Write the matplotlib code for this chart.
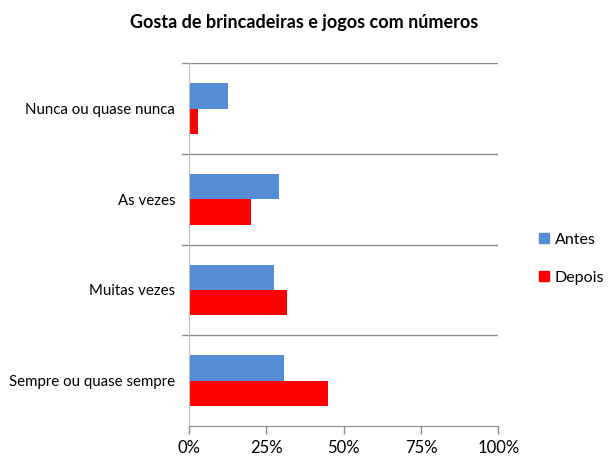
import numpy as np
import matplotlib.pyplot as plt
from matplotlib.patches import Patch

categorias = ['Nunca ou quase nunca', 'As vezes', 'Muitas vezes', 'Sempre ou quase sempre']
antes = [12.7, 29.0, 27.6, 30.6]
depois = [3.0, 20.1, 31.7, 45.0]
ticks_x = [0, 25, 50, 75, 100]

plt.rcParams['font.family'] = ['Lato', 'DejaVu Sans']

fig = plt.figure(figsize=(6.09, 4.66), dpi=100)
ax = fig.add_axes([0.3103, 0.0858, 0.5079, 0.7784])

azul = '#558ED5'
vermelho = '#FF0000'
h = 0.28
y = np.arange(len(categorias))

ax.barh(y - h / 2, antes, height=h, color=azul, label='Antes')
ax.barh(y + h / 2, depois, height=h, color=vermelho, label='Depois')

ax.set_ylim(len(categorias) - 0.5, -0.5)
ax.set_xlim(0, 100)

# linhas entre categorias
for b in np.arange(-0.5, len(categorias) - 0.5):
    ax.axhline(b, color='#8c8c8c', lw=1.0, zorder=0)
    ax.plot([-2.2, 0], [b, b], color='#8c8c8c', lw=1.0, clip_on=False)

ax.set_yticks(y)
ax.set_yticklabels(categorias, fontsize=10.8)
ax.tick_params(axis='y', length=0, pad=10)
ax.set_xticks(ticks_x)
ax.set_xticklabels([f'{t}%' for t in ticks_x], fontsize=12)
ax.tick_params(axis='x', length=6, color='#8c8c8c', width=1.0, pad=4)

for s in ['top', 'right']:
    ax.spines[s].set_visible(False)
ax.spines['left'].set_color('#bfbfbf')
ax.spines['bottom'].set_color('#8c8c8c')

fig.text(0.5, 0.952, 'Gosta de brincadeiras e jogos com números',
         ha='center', va='center', fontsize=13, fontweight='bold')

handles = [Patch(color=azul, label='Antes'), Patch(color=vermelho, label='Depois')]
fig.legend(handles=handles, loc='center left', bbox_to_anchor=(0.885, 0.445),
           frameon=False, fontsize=11.5, handlelength=0.6, handleheight=0.6,
           handletextpad=0.4, labelspacing=1.5, borderpad=0, borderaxespad=0)

fig.savefig('out.png', dpi=100)
